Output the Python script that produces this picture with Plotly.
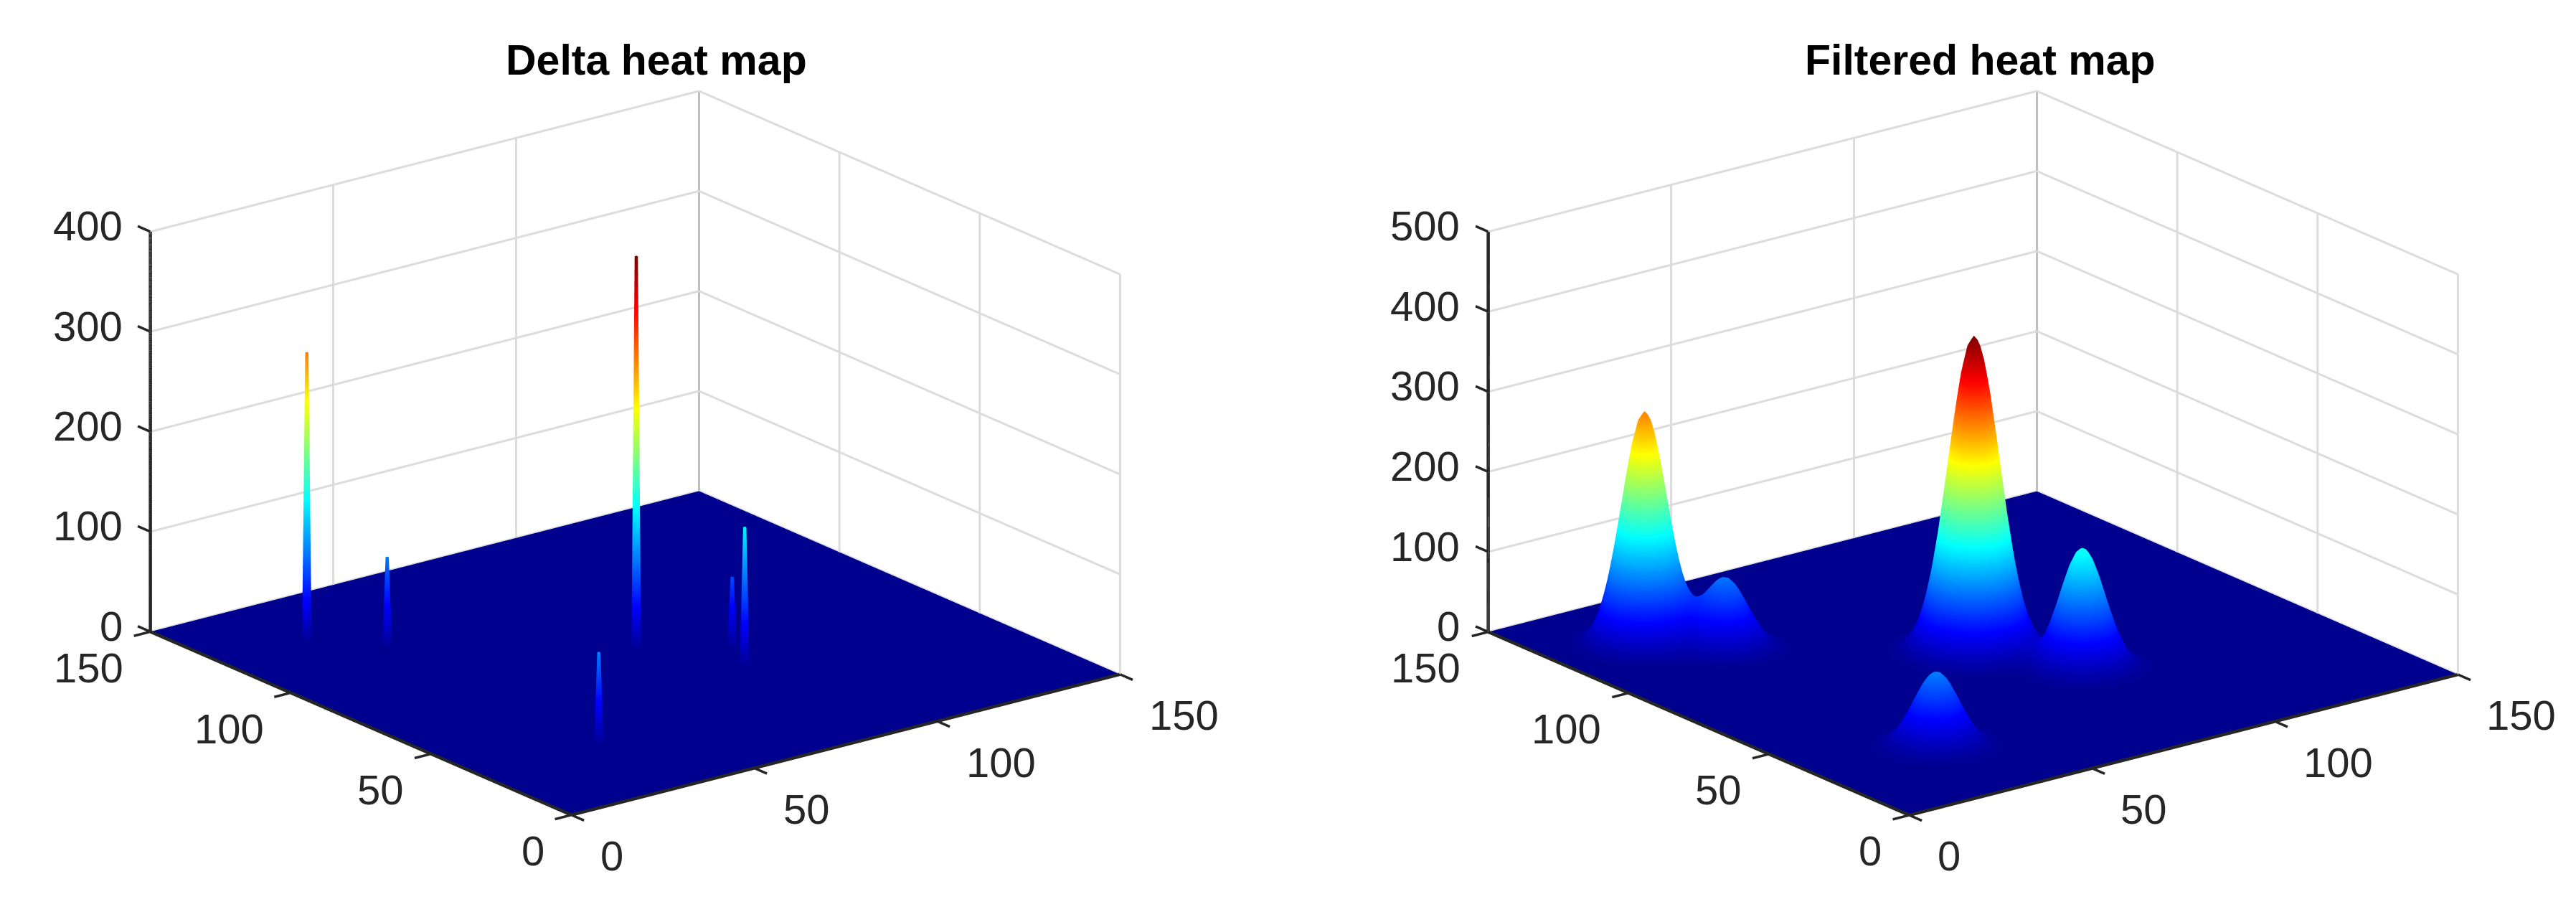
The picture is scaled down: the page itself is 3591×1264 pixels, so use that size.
"""Delta and filtered heat maps as two side by side surfaces."""

import numpy as np
import plotly.graph_objects as go
from plotly.subplots import make_subplots

# spikes in the delta map
delta_x = [22, 34, 76, 32, 88, 93]
delta_y = [123, 110, 76, 32, 53, 64]
delta_z = [291, 91, 394, 93, 140, 72]

# peaks in the filtered map
peak_x = [22, 34, 76, 32, 88]
peak_y = [123, 110, 76, 32, 53]
peak_z = [291, 89, 394, 93, 150]
peak_wide = [False, False, True, False, False]

# falloff of a peak along one axis, offsets 0 to 18, read from the peak widths
filter_falloff = [1.0, 0.980, 0.923, 0.835, 0.726, 0.607, 0.487, 0.375, 0.278, 0.198,
                  0.135, 0.089, 0.056, 0.034, 0.020, 0.011, 0.006, 0.003, 0.001]
wide_falloff = [1.0, 0.984, 0.938, 0.866, 0.775, 0.671, 0.563, 0.458, 0.360, 0.275,
                0.203, 0.145, 0.100, 0.067, 0.044, 0.028, 0.017, 0.010, 0.006]

xy_ticks = [0, 50, 100, 150]
delta_z_ticks = [0, 100, 200, 300, 400]
filtered_z_ticks = [0, 100, 200, 300, 400, 500]

JET = [
    [0.0, "#00008F"], [0.11, "#0000FF"], [0.365, "#00FFFF"],
    [0.49, "#7FFF7F"], [0.615, "#FFFF00"], [0.865, "#FF0000"], [1.0, "#800000"],
]

INK = "#262626"
GRID = "#DCDCDC"
CORNER = "#BEBEBE"
FONT = "Liberation Sans, Arial, sans-serif"
XY_MAX = 150
TICK_LEN = 4.5
# room around the box so the tick marks are not clipped
PAD = 6
# orthographic scenes take their zoom from the aspect ratio
ZOOM = 1.545


def delta_map():
    # half unit mesh, each spike is a narrow post
    size = 2 * XY_MAX + 1
    z = np.zeros((size, size))
    for x, y, h in zip(delta_x, delta_y, delta_z):
        z[2 * y:2 * y + 2, 2 * x:2 * x + 2] = h
    return np.arange(size) / 2, z


def blob(falloff):
    kernel = np.array(falloff[:0:-1] + falloff)
    return np.outer(kernel, kernel)


def filtered_map():
    size = XY_MAX + 1
    z = np.zeros((size, size))
    reach = len(filter_falloff) - 1
    for x, y, h, wide in zip(peak_x, peak_y, peak_z, peak_wide):
        shape = blob(wide_falloff if wide else filter_falloff)
        z[y - reach:y + reach + 1, x - reach:x + reach + 1] += h * shape
    return np.arange(size), z


def surface(xy, z):
    return go.Surface(
        z=z, x=xy, y=xy,
        colorscale=JET, cmin=0, cmax=394, showscale=False,
        lighting=dict(ambient=1, diffuse=0, specular=0, roughness=1, fresnel=0),
    )


def lines(segments, color, width):
    xs, ys, zs = [], [], []
    for start, end in segments:
        xs += [start[0], end[0], None]
        ys += [start[1], end[1], None]
        zs += [start[2], end[2], None]
    return go.Scatter3d(
        x=xs, y=ys, z=zs, mode="lines", showlegend=False, hoverinfo="skip",
        line=dict(color=color, width=width),
    )


def box_traces(z_ticks):
    top = z_ticks[-1]
    grid = []
    for t in xy_ticks:
        grid.append(((t, XY_MAX, 0), (t, XY_MAX, top)))
        grid.append(((XY_MAX, t, 0), (XY_MAX, t, top)))
    for t in z_ticks:
        grid.append(((0, XY_MAX, t), (XY_MAX, XY_MAX, t)))
        grid.append(((XY_MAX, 0, t), (XY_MAX, XY_MAX, t)))
    corner = [((XY_MAX, XY_MAX, 0), (XY_MAX, XY_MAX, top))]
    frame = [
        ((0, 0, 0), (XY_MAX, 0, 0)),
        ((0, 0, 0), (0, XY_MAX, 0)),
        ((0, XY_MAX, 0), (0, XY_MAX, top)),
    ]
    marks = []
    for t in xy_ticks:
        marks.append(((t, 0, 0), (t, -TICK_LEN, 0)))
        marks.append(((0, t, 0), (-TICK_LEN, t, 0)))
    for t in z_ticks:
        marks.append(((0, XY_MAX, t), (0, XY_MAX + TICK_LEN, t)))
    return [lines(grid, GRID, 6), lines(corner, CORNER, 6),
            lines(frame, INK, 9), lines(marks, INK, 7)]


def tick_label(x, y, z, text, anchor, dx, dy):
    return dict(
        x=x, y=y, z=z, text=text, showarrow=False, xanchor=anchor, yanchor="middle",
        xshift=dx, yshift=dy, font=dict(family=FONT, size=58, color=INK),
    )


def tick_labels(z_ticks):
    labels = []
    for t in xy_ticks:
        labels.append(tick_label(t, 0, 0, str(t), "left", 38, -57))
        labels.append(tick_label(0, t, 0, str(t), "right", -36, -50))
    for t in z_ticks:
        labels.append(tick_label(0, XY_MAX, t, str(t), "right", -37, 8))
    return labels


def scene(z_ticks, domain_x):
    xy_zoom = ZOOM * (XY_MAX + 2 * PAD) / XY_MAX
    hidden = dict(visible=False, range=[-PAD, XY_MAX + PAD])
    return dict(
        domain=dict(x=domain_x, y=[0.0127, 1.0]),
        xaxis=hidden, yaxis=hidden,
        zaxis=dict(visible=False, range=[-1, z_ticks[-1]]),
        aspectmode="manual", aspectratio=dict(x=xy_zoom, y=xy_zoom, z=0.615 * ZOOM),
        camera=dict(
            eye=dict(x=-0.574 * 2, y=-0.748 * 2, z=0.334 * 2),
            center=dict(x=0, y=0, z=0), up=dict(x=0, y=0, z=1),
            projection=dict(type="orthographic"),
        ),
        annotations=tick_labels(z_ticks),
    )


def title(text, x):
    return dict(
        text=f"<b>{text}</b>", x=x, y=0.94, xref="paper", yref="paper",
        xanchor="center", yanchor="middle", showarrow=False,
        font=dict(family=FONT, size=59, color="black"),
    )


fig = make_subplots(rows=1, cols=2, specs=[[{"type": "scene"}, {"type": "scene"}]])
fig.add_trace(surface(*delta_map()), row=1, col=1)
fig.add_trace(surface(*filtered_map()), row=1, col=2)
for trace in box_traces(delta_z_ticks):
    fig.add_trace(trace, row=1, col=1)
for trace in box_traces(filtered_z_ticks):
    fig.add_trace(trace, row=1, col=2)

fig.update_layout(
    width=3591, height=1264,
    paper_bgcolor="white",
    margin=dict(l=0, r=0, t=0, b=0),
    scene=scene(delta_z_ticks, [0.038, 0.451]),
    scene2=scene(filtered_z_ticks, [0.5566, 0.9706]),
    annotations=[title("Delta heat map", 0.2525), title("Filtered heat map", 0.7665)],
)

fig.write_html("out.html")
